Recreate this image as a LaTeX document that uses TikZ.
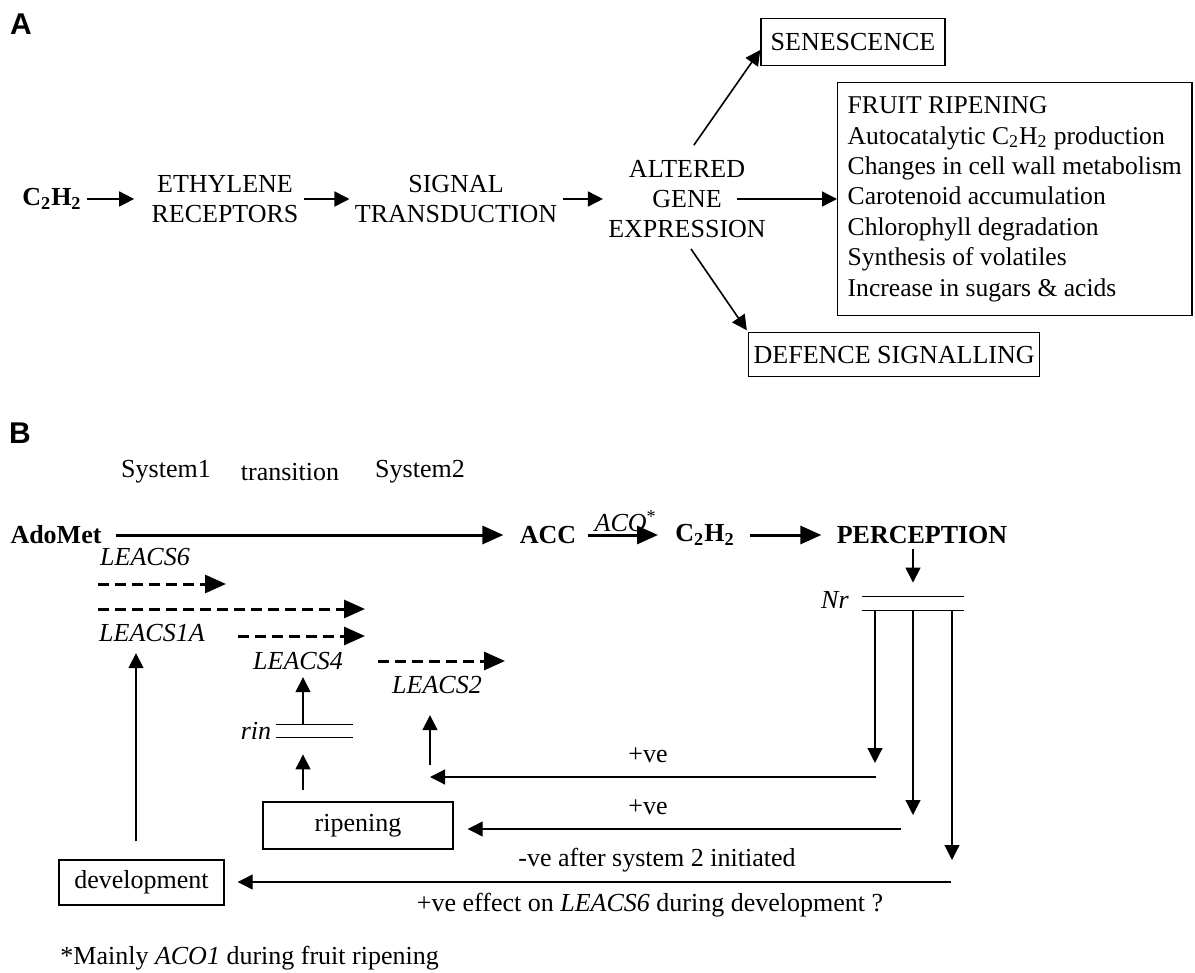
\documentclass[tikz,border=0pt]{standalone}
\usepackage{fontspec}
\setmainfont{Liberation Serif}
\setsansfont{Liberation Sans}
\usepackage{tikz}
\usetikzlibrary{positioning}
\usetikzlibrary{arrows.meta}
\tikzset{>={Triangle[length=7.5pt,width=7.5pt]}}
\tikzset{
  txt/.style={font=\fontsize{13}{15.25}\selectfont, inner sep=2.5pt},
  box/.style={txt, draw, line width=0.7pt},
  lbl/.style={font=\sffamily\bfseries\fontsize{15}{18}\selectfont},
  arr/.style={line width=0.8pt},
  fb/.style={line width=0.6pt},
  heavy/.style={line width=1.5pt, >={Triangle[length=10.5pt,width=9pt]}},
  dasharrow/.style={heavy, dash pattern=on 5.5pt off 3pt},
  barnode/.style={inner sep=0pt, minimum height=6.5pt},
}

\begin{document}
\begin{tikzpicture}[x=0.5pt,y=-0.5pt]
\useasboundingbox (0,0) rectangle (1195,973);
% A
\node[lbl] (lblA) at (21,24) {A};
\node[txt] (gasA) at (52,199) {\textbf{C\textsubscript{2}H\textsubscript{2}}};
\node[txt, align=center] (recep) at (225,199) {ETHYLENE\\RECEPTORS};
\node[txt, align=center] (signal) at (456,199) {SIGNAL\\TRANSDUCTION};
\node[txt] (altered) at (687,169) {ALTERED};
\node[txt] (gene) at (687,199) {GENE};
\node[txt] (expr) at (687,229) {EXPRESSION};
\node[box, minimum width=92pt, minimum height=23.5pt] (senes) at (853,42) {SENESCENCE};
\node[box, anchor=north west, font=\fontsize{12.8}{15.2}\selectfont, minimum width=177pt,
      inner xsep=5pt, inner ysep=0pt, minimum height=116.5pt, align=left] (fruit) at (837,82)
  {FRUIT RIPENING\\
   Autocatalytic C\textsubscript{2}H\textsubscript{2} production\\
   Changes in cell wall metabolism\\
   Carotenoid accumulation\\
   Chlorophyll degradation\\
   Synthesis of volatiles\\
   Increase in sugars \& acids};
\node[box, minimum width=145pt, minimum height=22pt, anchor=north west] (defence) at (748,332) {DEFENCE SIGNALLING};

\draw[arr,->,shorten >=6pt] (gasA) -- (recep);
\draw[arr,->] (recep) -- (signal);
\draw[arr,->,shorten >=22pt] (signal) -- (gene);
\draw[arr,->,shorten <=5pt] (gene) -- (gene -| fruit.west);
\draw[arr,->,shorten <=6pt] (altered.north) -- ([yshift=-4pt]senes.west);
\draw[arr,->,shorten <=3.5pt,shorten >=1pt] (expr.south) -- (defence.north west);

% B
\node[lbl] (lblB) at (20,433) {B};
\node[txt] (sys1) at (166,472) {System1};
\node[txt] (trans) at (290,472) {transition};
\node[txt] (sys2) at (420,472) {System2};
\node[txt] (adomet) at (56,535) {\textbf{AdoMet}};
\node[txt] (acc) at (548,535) {\textbf{ACC}};
\node[txt] (gasB) at (705,535) {\textbf{C\textsubscript{2}H\textsubscript{2}}};
\node[txt] (percep) at (922,535) {\textbf{PERCEPTION}};

\draw[heavy,->,shorten <=4.5pt,shorten >=5.5pt] (adomet) -- (acc);
\draw[heavy,->,shorten <=3pt,shorten >=6pt] (acc) -- node[txt,above,inner sep=1pt] {\textit{ACO}\textsuperscript{*}} (gasB);
\draw[heavy,->,shorten <=5pt,shorten >=5pt] (gasB) -- (percep);

\node[txt] (leacs6) at (145,557) {\textit{LEACS6}};
\node[txt] (leacs1a) at (152,633) {\textit{LEACS1A}};
\node[txt] (leacs4) at (298,661) {\textit{LEACS4}};
\node[txt] (leacs2) at (437,685) {\textit{LEACS2}};

\foreach \n/\xa/\xb/\yy in {1/98/226/584, 2/98/365/609, 3/238/365/636, 4/378/505/661} {
  \coordinate (ds\n) at (\xa,\yy);
  \coordinate (de\n) at (\xb,\yy);
  \draw[dasharrow,->] (ds\n) -- (de\n);
}

% Nr block and feedback
\node[barnode, minimum width=51pt] (nrbar) at (913,603.5) {};
\draw[fb] (nrbar.north west) -- (nrbar.north east) (nrbar.south west) -- (nrbar.south east);
\node[txt] (nr) at (835,600) {\textit{Nr}};
\draw[fb,->,shorten >=7pt] (percep.south -| nrbar) -- (nrbar.north);

\foreach \n/\xx/\yy in {1/875/763, 2/913/815, 3/952/860} {
  \coordinate (tip\n) at (\xx,\yy);
  \draw[fb,->] (nrbar.south -| tip\n) -- (tip\n);
}

\node[box, minimum width=95pt, minimum height=23.5pt] (ripen) at (358,825.5) {ripening};
\node[box, minimum width=82.5pt, minimum height=22.5pt] (devel) at (141.5,882.5) {development};

\coordinate (fb1) at (876,777);
\coordinate (fb2) at (901,829);
\coordinate (fb3) at (951,882);
\coordinate (up2) at (430,777);
\draw[fb,->] (fb1) -- (up2);
\draw[fb,->,shorten >=7pt] (fb2) -- (fb2 -| ripen.east);
\draw[fb,->,shorten >=6.5pt] (fb3) -- (fb3 -| devel.east);
\draw[fb,->,shorten <=6pt,shorten >=8pt] (up2) -- (up2 |- leacs2.south);

\node[txt] (pos1) at (648,755) {+ve};
\node[txt] (pos2) at (648,807) {+ve};
\node[txt] (neg) at (657,860) {-ve after system 2 initiated};
\node[txt] (pos3) at (650,905) {+ve effect on \textit{LEACS6} during development ?};

% rin block
\node[barnode, minimum width=38.5pt, minimum height=6pt] (rinbar) at (314.5,731) {};
\draw[fb] (rinbar.north west) -- (rinbar.north east) (rinbar.south west) -- (rinbar.south east);
\node[txt] (rin) at (256,731) {\textit{rin}};
\coordinate (colA) at (136,0);
\coordinate (colB) at (303,0);
\draw[fb,->,shorten <=5.5pt,shorten >=8.5pt] (ripen.north -| colB) -- (rinbar.south -| colB);
\draw[fb,->,shorten >=1pt] (rinbar.north -| colB) -- (leacs4.south -| colB);
\draw[fb,->,shorten <=9pt,shorten >=3pt] (devel.north -| colA) -- (leacs1a.south -| colA);

\node[txt, anchor=west] (note) at (55,958) {*Mainly \textit{ACO1} during fruit ripening};
\end{tikzpicture}
\end{document}
